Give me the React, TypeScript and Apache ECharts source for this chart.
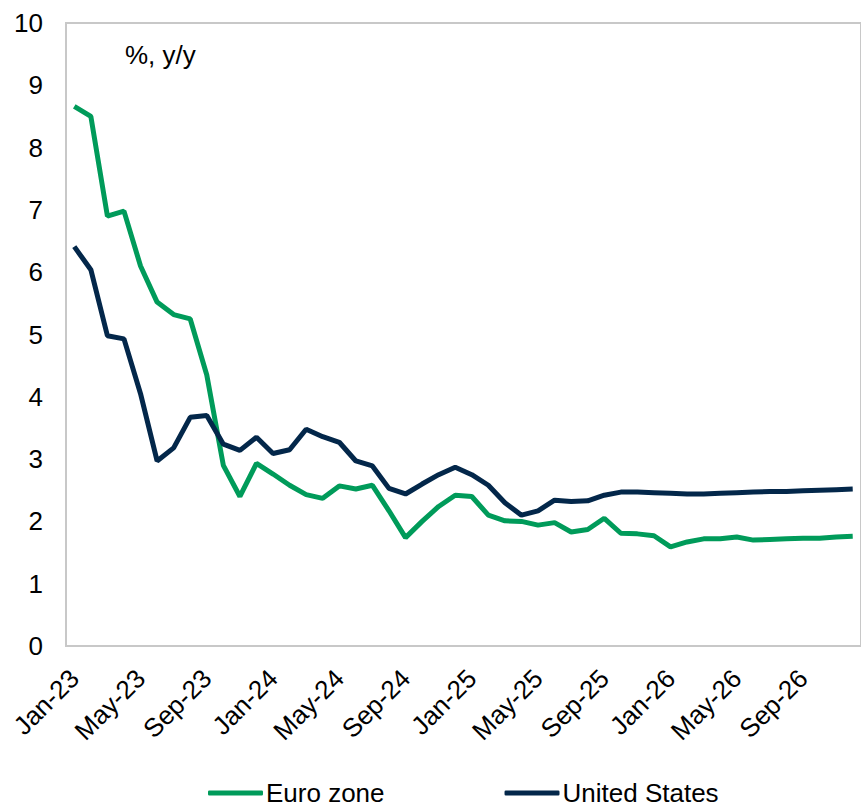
import React, { useEffect, useRef } from "react";
import * as echarts from "echarts";

// Monthly categories, Jan-23 .. Dec-26
const categories: string[] = [
  "Jan-23", "Feb-23", "Mar-23", "Apr-23", "May-23", "Jun-23", "Jul-23", "Aug-23", "Sep-23", "Oct-23", "Nov-23", "Dec-23",
  "Jan-24", "Feb-24", "Mar-24", "Apr-24", "May-24", "Jun-24", "Jul-24", "Aug-24", "Sep-24", "Oct-24", "Nov-24", "Dec-24",
  "Jan-25", "Feb-25", "Mar-25", "Apr-25", "May-25", "Jun-25", "Jul-25", "Aug-25", "Sep-25", "Oct-25", "Nov-25", "Dec-25",
  "Jan-26", "Feb-26", "Mar-26", "Apr-26", "May-26", "Jun-26", "Jul-26", "Aug-26", "Sep-26", "Oct-26", "Nov-26", "Dec-26",
];

// Inflation, %, y/y
const euroZone: number[] = [
  8.66, 8.5, 6.9, 6.98, 6.1, 5.52, 5.32, 5.25, 4.35, 2.9, 2.4, 2.93,
  2.76, 2.58, 2.43, 2.37, 2.57, 2.52, 2.58, 2.17, 1.74, 2.0, 2.24, 2.42,
  2.4, 2.1, 2.01, 2.0, 1.94, 1.98, 1.83, 1.87, 2.05, 1.81, 1.8, 1.77,
  1.59, 1.67, 1.72, 1.72, 1.75, 1.7, 1.71, 1.72, 1.73, 1.73, 1.75, 1.76,
];

const unitedStates: number[] = [
  6.41, 6.04, 4.98, 4.93, 4.05, 2.97, 3.18, 3.67, 3.7, 3.24, 3.14, 3.35,
  3.09, 3.15, 3.48, 3.36, 3.27, 2.97, 2.89, 2.53, 2.44, 2.6, 2.75, 2.87,
  2.75, 2.58, 2.3, 2.1, 2.17, 2.34, 2.32, 2.33, 2.42, 2.47, 2.47, 2.46,
  2.45, 2.44, 2.44, 2.45, 2.46, 2.47, 2.48, 2.48, 2.49, 2.5, 2.51, 2.52,
];

const FONT = "'Liberation Sans', Arial, sans-serif";
const GREEN = "#009B5A";
const NAVY = "#03274A";

export default function App() {
  const ref = useRef<HTMLDivElement>(null);

  useEffect(() => {
    if (!ref.current) return;
    const chart = echarts.init(ref.current, undefined, { renderer: "svg" });
    chart.setOption({
      animation: false,
      backgroundColor: "#ffffff",
      textStyle: { fontFamily: FONT, color: "#000" },
      grid: {
        left: 66,
        top: 23,
        bottom: 165,
        right: -11,
        show: true,
        borderColor: "#C8C8C8",
        borderWidth: 2,
        backgroundColor: "transparent",
      },
      legend: {
        left: 203,
        top: 775,
        itemWidth: 55,
        itemHeight: 5,
        itemGap: 120,
        icon: "roundRect",
        textStyle: { fontFamily: FONT, fontSize: 26, color: "#000", padding: [0, 0, 0, -2] },
        data: ["Euro zone", "United States"],
      },
      xAxis: {
        type: "category",
        data: categories,
        boundaryGap: true,
        axisLine: { show: true, lineStyle: { color: "#C8C8C8", width: 2 } },
        axisTick: { show: false },
        splitLine: { show: false },
        axisLabel: {
          interval: 3,
          rotate: 45,
          margin: 28,
          fontSize: 26,
          fontFamily: FONT,
          color: "#000",
        },
      },
      yAxis: {
        type: "value",
        min: 0,
        max: 10,
        interval: 1,
        axisLine: { show: true, lineStyle: { color: "#C8C8C8", width: 2 } },
        axisTick: { show: false },
        splitLine: { show: false },
        axisLabel: { margin: 23, fontSize: 26, fontFamily: FONT, color: "#000" },
      },
      graphic: [
        {
          type: "text",
          left: 125,
          top: 42,
          style: { text: "%, y/y", font: `26px ${FONT}`, fill: "#000" },
        },
      ],
      series: [
        {
          name: "Euro zone",
          type: "line",
          data: euroZone,
          showSymbol: false,
          symbol: "none",
          lineStyle: { color: GREEN, width: 5 },
          itemStyle: { color: GREEN },
          z: 2,
        },
        {
          name: "United States",
          type: "line",
          data: unitedStates,
          showSymbol: false,
          symbol: "none",
          lineStyle: { color: NAVY, width: 5 },
          itemStyle: { color: NAVY },
          z: 3,
        },
      ],
    });
    return () => chart.dispose();
  }, []);

  return (
    <div
      ref={ref}
      style={{ position: "absolute", left: 0, top: 0, width: 861, height: 811 }}
    />
  );
}
